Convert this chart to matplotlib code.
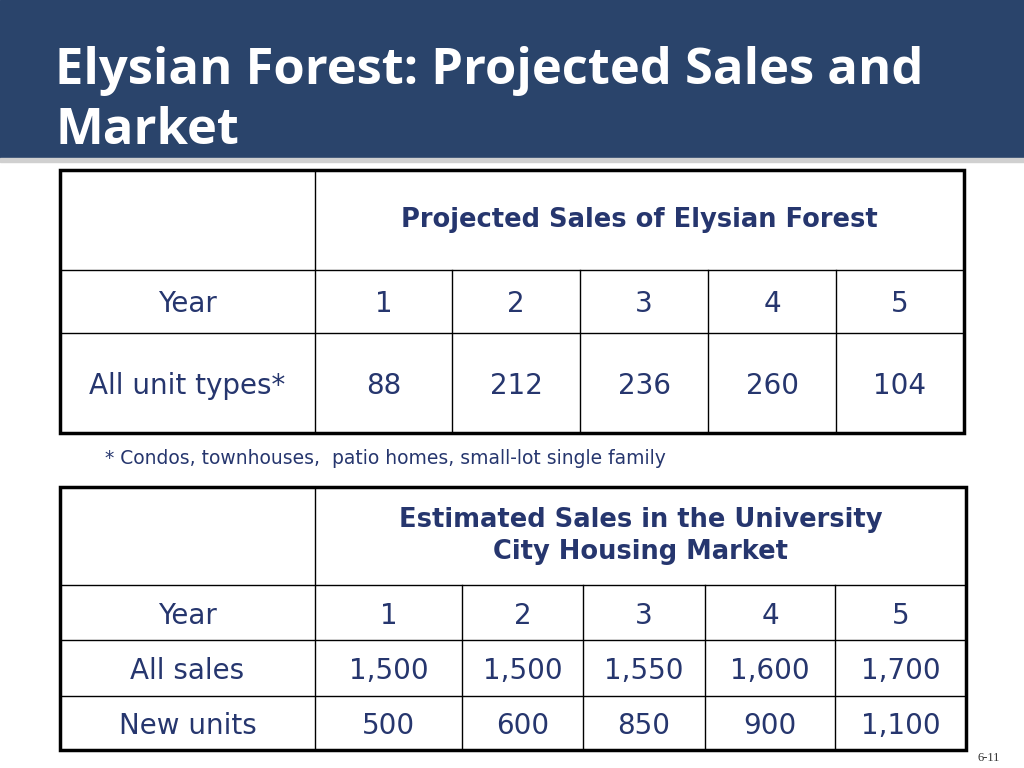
import matplotlib
matplotlib.use("Agg")
import matplotlib.pyplot as plt

title_lines = ["Elysian Forest: Projected Sales and", "Market"]
t1_header = "Projected Sales of Elysian Forest"
t1_rows = [["Year", "1", "2", "3", "4", "5"],
           ["All unit types*", "88", "212", "236", "260", "104"]]
footnote = "* Condos, townhouses,  patio homes, small-lot single family"
t2_header = "Estimated Sales in the University\nCity Housing Market"
t2_rows = [["Year", "1", "2", "3", "4", "5"],
           ["All sales", "1,500", "1,500", "1,550", "1,600", "1,700"],
           ["New units", "500", "600", "850", "900", "1,100"]]
page = "6-11"

NAVY = "#2a446b"
TXT = "#26366e"

fig = plt.figure(figsize=(10.24, 7.68), dpi=100)
ax = fig.add_axes([0, 0, 1, 1])
ax.set_xlim(0, 1024); ax.set_ylim(768, 0); ax.axis("off")

ax.add_patch(plt.Rectangle((0, 0), 1024, 158, color=NAVY, zorder=1))
ax.add_patch(plt.Rectangle((0, 158), 1024, 4, color="#d0d0d0", zorder=1))
for ln, y in zip(title_lines, [71, 131]):
    ax.text(55, y, ln, color="white", fontsize=36.5, fontweight="bold",
            family="Open Sans", va="center", ha="left")

def table(xs, ys, header, rows, hsize):
    x0, x1, y0, y1 = xs[0], xs[-1], ys[0], ys[-1]
    for y in ys[1:-1]:
        ax.plot([x0, x1], [y, y], color="black", lw=1)
    ax.plot([xs[1], xs[1]], [y0, y1], color="black", lw=1)
    for x in xs[2:-1]:
        ax.plot([x, x], [ys[1], y1], color="black", lw=1)
    ax.add_patch(plt.Rectangle((x0, y0), x1 - x0, y1 - y0, fill=False, lw=2.5, ec="black"))
    ax.text((xs[1] + x1) / 2, (ys[0] + ys[1]) / 2, header, ha="center", va="center",
            fontsize=hsize, fontweight="bold", color=TXT, family="DejaVu Sans",
            linespacing=1.3)
    for r, row in enumerate(rows):
        yc = (ys[r + 1] + ys[r + 2]) / 2
        for c, val in enumerate(row):
            ax.text((xs[c] + xs[c + 1]) / 2, yc + 3, val, ha="center", va="center",
                    fontsize=20, color=TXT, family="DejaVu Sans")

table([60, 315, 452, 580, 708, 836, 964], [170, 270, 333, 433], t1_header, t1_rows, 18.5)
ax.text(105, 459, footnote, fontsize=13.5, color=TXT, family="DejaVu Sans", va="center")
table([60, 315, 462, 583, 705, 835, 966], [487, 585, 640, 696, 750], t2_header, t2_rows, 18.5)
ax.text(1000, 758, page, fontsize=9, family="Liberation Serif", ha="right", va="center", color="#333333")

fig.savefig("out.png", dpi=100)
